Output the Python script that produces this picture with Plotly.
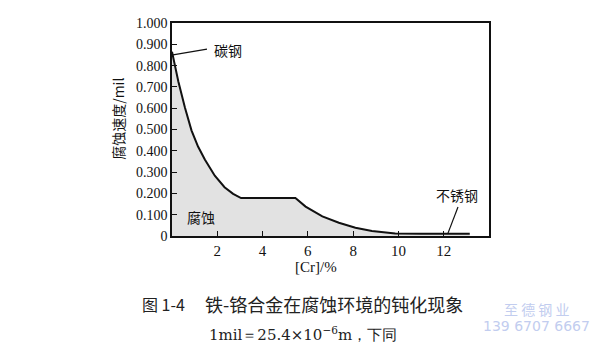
import plotly.graph_objects as go

# Data
cr_pct = [0, 0.12, 0.28, 0.57, 0.86, 1.15, 1.45, 1.89, 2.32, 2.7, 3.05, 5.45, 5.9, 6.64, 7.37, 8.1, 8.83, 9.86, 11.0, 13.15]
corr_rate = [0.865, 0.80, 0.725, 0.603, 0.496, 0.42, 0.359, 0.283, 0.229, 0.198, 0.178, 0.178, 0.138, 0.092, 0.062, 0.039, 0.024, 0.012, 0.010, 0.010]

x_ticks = [2, 4, 6, 8, 10, 12]
y_ticks = [0, 0.1, 0.2, 0.3, 0.4, 0.5, 0.6, 0.7, 0.8, 0.9, 1.0]
y_tick_text = ["0", "0.100", "0.200", "0.300", "0.400", "0.500", "0.600", "0.700", "0.800", "0.900", "1.000"]

SERIF = "Liberation Serif, Times New Roman, serif"
CJK = "Noto Sans CJK SC"

# page body has an 8px default margin; screen-space plot area: x 172..489, y 16..235
OFF = 8
SL, ST = 172, 16
W, H = 600, 355
pw, ph = 317, 220
L, T = SL - OFF, ST - OFF
R = W - L - pw
B = H - T - ph

def px(x):
    return (x - SL) / pw

def py(y):
    return (ST + ph - y) / ph

fig = go.Figure()
fig.add_trace(go.Scatter(
    x=cr_pct, y=corr_rate, mode="lines",
    line=dict(color="#111111", width=2),
    fill="tozeroy", fillcolor="#e2e2e2",
    hoverinfo="skip", showlegend=False,
))

def note(x, y, text, size=14, family=CJK, color="#111", xanchor="center", **kw):
    return dict(x=px(x), y=py(y), xref="paper", yref="paper", text=text, showarrow=False,
                xanchor=xanchor, yanchor="middle", font=dict(family=family, size=size, color=color), **kw)

ann = [
    note(228, 44, "碳钢"),
    note(201, 216, "腐蚀"),
    note(457, 194, "不锈钢"),
    note(118, 115, "腐蚀速度/mil", textangle=-90),
    note(316, 268, "[Cr]/%", size=15, family=SERIF),
    note(140, 306, "图 1-4", size=16, xanchor="left", color="#222"),
    note(203, 306, "铁-铬合金在腐蚀环境的钝化现象", size=18, xanchor="left", color="#222"),
    note(207, 337, "1mil＝25.4×10<sup>−6</sup>m，下同", size=15, family="DejaVu Serif", xanchor="left", color="#222"),
    note(536, 311, "至 德 钢 业", size=14, color="#c2cdef"),
    note(536, 329, "139 6707 6667", size=14, family="DejaVu Sans", color="#c2cdef"),
]

shapes = [
    dict(type="line", xref="paper", yref="paper", x0=px(173), y0=py(49), x1=px(207), y1=py(43),
         line=dict(color="#111", width=1.2)),
    dict(type="line", xref="paper", yref="paper", x0=px(458), y0=py(206), x1=px(448), y1=py(233),
         line=dict(color="#111", width=1.2)),
]

fig.update_layout(
    width=W, height=H,
    margin=dict(l=L, r=R, t=T, b=B),
    paper_bgcolor="white", plot_bgcolor="white",
    annotations=ann, shapes=shapes,
    xaxis=dict(range=[0, 14], tickvals=x_ticks, ticks="inside", ticklen=5, tickcolor="#111",
               showline=True, mirror=True, linecolor="#111", linewidth=1.5, showgrid=False,
               zeroline=False, tickfont=dict(family=SERIF, size=15, color="#111")),
    yaxis=dict(range=[0, 1.0], tickvals=y_ticks, ticktext=y_tick_text, ticks="inside", ticklen=5,
               tickcolor="#111", showline=True, mirror=True, linecolor="#111", linewidth=1.5,
               showgrid=False, zeroline=False, tickfont=dict(family=SERIF, size=14, color="#111")),
)

fig.write_html("out.html")
